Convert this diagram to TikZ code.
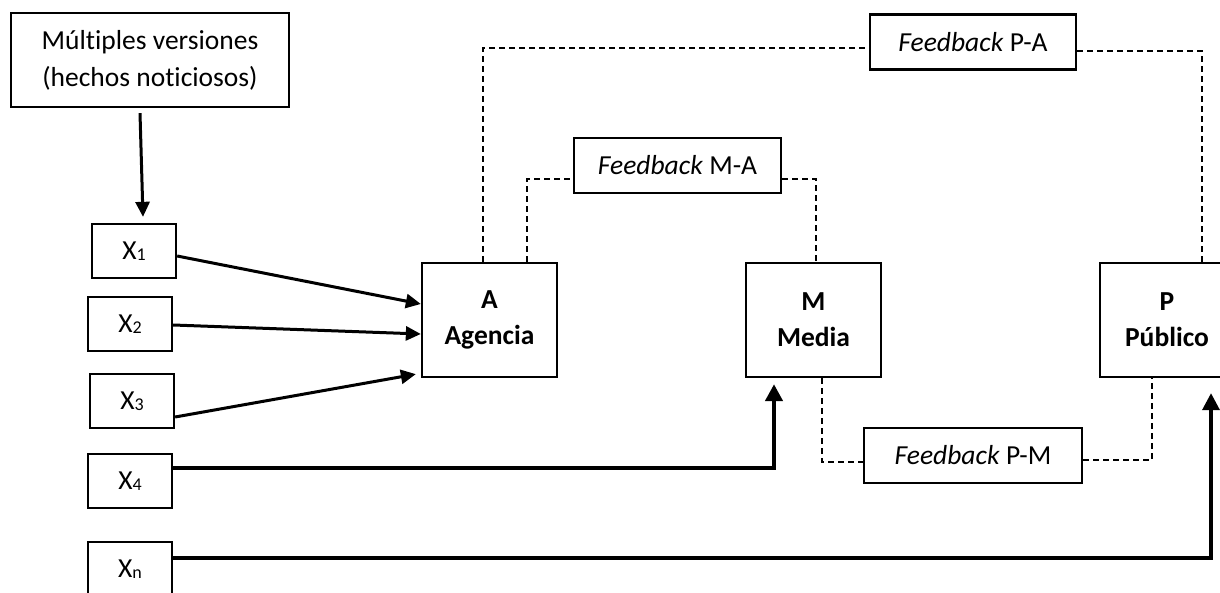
\documentclass[tikz,border=0pt]{standalone}
\usepackage{fontspec}
\setmainfont{Carlito}[Ligatures=NoCommon]
\usetikzlibrary{arrows.meta}
\newcommand{\xsub}[1]{X\raisebox{-1.5pt}{\fontsize{18}{18}\selectfont #1}}
\begin{document}
\begin{tikzpicture}[x=1pt,y=-1pt,
  box/.style={draw,line width=2.3pt,rectangle,inner sep=0pt,align=center,font=\fontsize{27.5}{36}\selectfont},
  xbox/.style={box,minimum width=84pt,minimum height=54pt},
  bigbox/.style={box,minimum width=135pt,minimum height=114pt,font=\fontsize{27.5}{36}\selectfont\bfseries},
  fbbox/.style={box,minimum height=55pt},
  arr/.style={line width=3pt,-{Triangle[length=15pt,width=14pt]}},
  thickarr/.style={line width=4.5pt,-{Triangle[length=17pt,width=17pt]}},
  fb/.style={draw,line width=2pt,dash pattern=on 6pt off 4pt}
]
\useasboundingbox (0,0) rectangle (1220,593);
\clip (0,0) rectangle (1220,593);
% nodes
\node[box,minimum width=278pt,minimum height=94pt,font=\fontsize{27.5}{37}\selectfont] (top) at (150,60) {Múltiples versiones\\(hechos noticiosos)};
\node[xbox] (x1) at (134,251) {\xsub{1}};
\node[xbox] (x2) at (130,324) {\xsub{2}};
\node[xbox] (x3) at (132,401) {\xsub{3}};
\node[xbox] (x4) at (130,481) {\xsub{4}};
\node[xbox] (xn) at (130,569) {\xsub{n}};
\node[bigbox] (A) at (489.5,320) {A\\Agencia};
\node[bigbox] (M) at (813.5,320) {M\\Media};
\node[bigbox,minimum width=134pt] (P) at (1167,320) {P\\Público};
\node[fbbox,minimum width=206pt] (fpa) at (973,42) {\textit{Feedback} P-A};
\node[fbbox,minimum width=207pt] (fma) at (677.5,165.5) {\textit{Feedback} M-A};
\node[fbbox,minimum width=218pt] (fpm) at (973,455.5) {\textit{Feedback} P-M};
% solid arrows
\draw[arr] ([xshift=-10pt,yshift=-5pt]top.south) -- ([xshift=9pt,yshift=6pt]x1.north);
\draw[arr] ([yshift=-5pt]x1.east) -- ([yshift=16pt]A.west);
\draw[arr] ([yshift=-1pt]x2.east) -- ([yshift=-14pt]A.west);
\draw[arr] ([yshift=-16pt]x3.east) -- ([xshift=-5pt,yshift=4pt]A.south west);
\draw[thickarr] ([yshift=13pt]x4.east) -| ([xshift=-39.5pt,yshift=-6pt]M.south);
\draw[line width=3.5pt,-{Triangle[length=17pt,width=17pt]}] ([yshift=11pt]xn.east) -| ([xshift=44pt,yshift=-15pt]P.south);
% dashed feedback lines
\draw[fb] ([xshift=-6.5pt]A.north) |- ([yshift=-6pt]fpa.west);
\draw[fb] ([yshift=-9pt]fpa.east) -| ([xshift=35pt]P.north);
\draw[fb] ([xshift=37.5pt]A.north) |- ([yshift=-13.5pt]fma.west);
\draw[fb] ([yshift=-13.5pt]fma.east) -| ([xshift=2.5pt]M.north);
\draw[fb] ([xshift=8.5pt]M.south) |- ([yshift=-6.5pt]fpm.west);
\draw[fb] ([yshift=-4.5pt]fpm.east) -| ([xshift=-15pt]P.south);
\end{tikzpicture}
\end{document}
